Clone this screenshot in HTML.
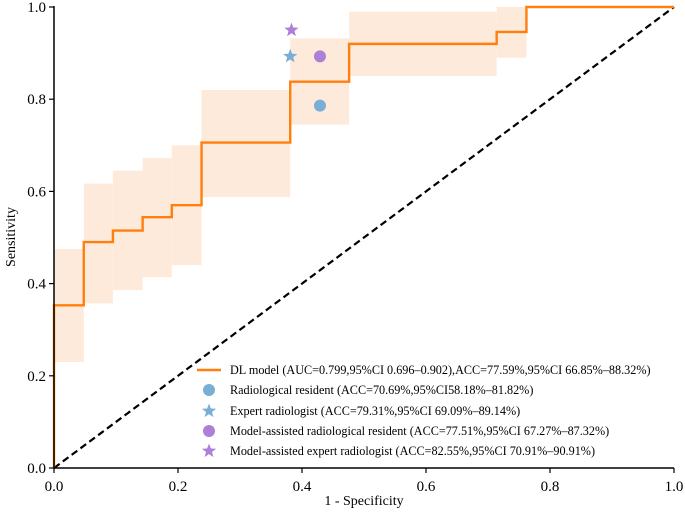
<!DOCTYPE html>
<html><head><meta charset="utf-8"><style>
html,body{margin:0;padding:0;background:#fff;}
svg text{font-family:"Liberation Serif",serif;fill:#000;}
</style></head><body>
<svg id="chart" width="685" height="517" viewBox="0 0 685 517" xmlns="http://www.w3.org/2000/svg">
<g id="band"></g>
<line x1="54" y1="468" x2="674" y2="7" stroke="#000" stroke-width="2.2" stroke-dasharray="7,4"/>
<path id="roc" fill="none" stroke="#ff7f0e" stroke-width="2.4"/>
<g id="marks"></g>
<g id="axes"></g>
<text transform="translate(15,237) rotate(-90)" text-anchor="middle" font-size="14">Sensitivity</text>
<text x="364" y="505" text-anchor="middle" font-size="14">1 - Specificity</text>
<g id="legend"></g>
</svg>
<script>
const rocFpr = [0,0,0.048,0.048,0.095,0.095,0.143,0.143,0.19,0.19,0.238,0.238,0.381,0.381,0.476,0.476,0.714,0.714,0.762,0.762,1];
const rocTpr = [0,0.353,0.353,0.49,0.49,0.515,0.515,0.544,0.544,0.57,0.57,0.706,0.706,0.838,0.838,0.92,0.92,0.946,0.946,1,1];
const bandX0 = [0,0.048,0.095,0.143,0.19,0.238,0.381,0.476,0.714];
const bandX1 = [0.048,0.095,0.143,0.19,0.238,0.381,0.476,0.714,0.762];
const bandLo = [0.23,0.357,0.386,0.414,0.44,0.588,0.745,0.85,0.89];
const bandHi = [0.475,0.617,0.645,0.672,0.70,0.82,0.932,0.99,1.0];
const readerNames = ["Radiological resident","Expert radiologist","Model-assisted radiological resident","Model-assisted expert radiologist"];
const readerFpr = [0.429,0.381,0.429,0.383];
const readerTpr = [0.786,0.893,0.893,0.95];
const ticks = [0,0.2,0.4,0.6,0.8,1.0];
const tickLabels = ["0.0","0.2","0.4","0.6","0.8","1.0"];
const legendLabels = [
 "DL model (AUC=0.799,95%CI 0.696–0.902),ACC=77.59%,95%CI 66.85%–88.32%)",
 "Radiological resident (ACC=70.69%,95%CI58.18%–81.82%)",
 "Expert radiologist (ACC=79.31%,95%CI 69.09%–89.14%)",
 "Model-assisted radiological resident (ACC=77.51%,95%CI 67.27%–87.32%)",
 "Model-assisted expert radiologist (ACC=82.55%,95%CI 70.91%–90.91%)"];
const NS="http://www.w3.org/2000/svg";
const X=v=>54+v*620, Y=v=>468-v*461;
const blue="#7aaed4", purple="#ae7fd6";
const readerColor=[blue,blue,purple,purple], readerShape=["circle","star","circle","star"];
function el(t,a,p){const e=document.createElementNS(NS,t);for(const k in a)e.setAttribute(k,a[k]);p.appendChild(e);return e;}
function starPts(cx,cy,r){let s=[];for(let i=0;i<10;i++){const rr=i%2?r*0.42:r;const a=-Math.PI/2+i*Math.PI/5;s.push((cx+rr*Math.cos(a)).toFixed(1)+","+(cy+rr*Math.sin(a)).toFixed(1));}return s.join(" ");}
const band=document.getElementById('band');
for(let i=0;i<bandX0.length;i++){
 const r=el('rect',{x:X(bandX0[i]),y:Y(bandHi[i]),width:X(bandX1[i])-X(bandX0[i]),height:Y(bandLo[i])-Y(bandHi[i]),fill:"#feeadb"},band);
 
 
}
document.getElementById('roc').setAttribute('d',rocFpr.map((f,i)=>(i?'L':'M')+X(f)+','+Y(rocTpr[i])).join(' '));
const marks=document.getElementById('marks');
function marker(shape,cx,cy,c,p){
 if(shape==="circle") return el('circle',{cx:cx,cy:cy,r:6,fill:c},p);
 return el('polygon',{points:starPts(cx,cy,7.5),fill:c},p);
}
for(let i=0;i<readerFpr.length;i++){
 const m=marker(readerShape[i],X(readerFpr[i]),Y(readerTpr[i]),readerColor[i],marks);
 
 
}
const axes=document.getElementById('axes');
el('line',{x1:54,y1:468,x2:674,y2:468,stroke:"#000","stroke-width":1.5},axes);
el('line',{x1:54,y1:468,x2:54,y2:6,stroke:"#000","stroke-width":1.5},axes);
ticks.forEach((t,i)=>{
 el('line',{x1:X(t),y1:468,x2:X(t),y2:473,stroke:"#000","stroke-width":1.2},axes);
 const tx=el('text',{x:X(t),y:491,"text-anchor":"middle","font-size":"15"},axes);tx.textContent=tickLabels[i];
 
 
 el('line',{x1:49,y1:Y(t),x2:54,y2:Y(t),stroke:"#000","stroke-width":1.2},axes);
 const ty=el('text',{x:46,y:Y(t)+5,"text-anchor":"end","font-size":"15"},axes);ty.textContent=tickLabels[i];
 
 
});
const lg=document.getElementById('legend');
const rowY=[370,390,411,431,451];
legendLabels.forEach((s,i)=>{
 const g=el('g',{},lg);
 
 
 if(i===0) el('line',{x1:197,y1:rowY[0],x2:221,y2:rowY[0],stroke:"#ff7f0e","stroke-width":2.4},g);
 else marker(readerShape[i-1],209,rowY[i],readerColor[i-1],g);
 const t=el('text',{x:230,y:rowY[i]+4,"font-size":"12.2"},g);t.textContent=s;
});
</script>
</body></html>
